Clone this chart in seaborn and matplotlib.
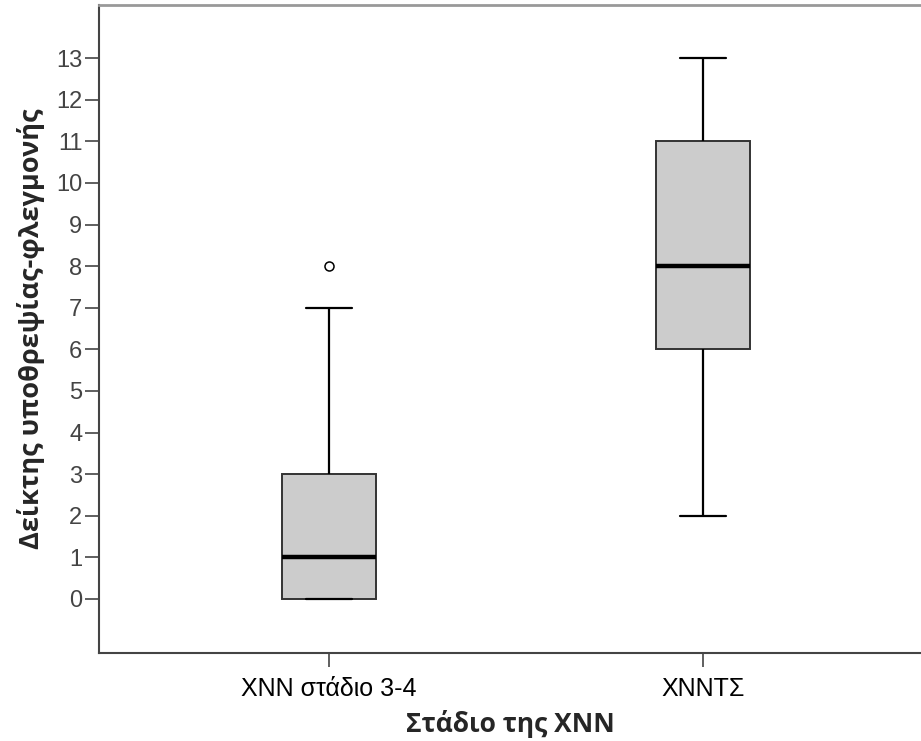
import matplotlib
matplotlib.use("Agg")
import matplotlib.pyplot as plt
import seaborn as sns
import pandas as pd

# group labels and raw scores (quartiles, whiskers, outlier)
groups = ["ΧΝΝ στάδιο 3-4", "ΧΝΝΤΣ"]
stage34 = [0, 0, 0, 0, 0, 0, 0, 1, 1, 1, 1, 1, 2, 2, 3, 3, 3, 4, 7, 8]
xnnts = [2, 4, 5, 6, 6, 6, 7, 8, 8, 8, 9, 10, 11, 11, 11, 12, 13]
yticks = list(range(0, 14))

df = pd.DataFrame({
    "group": [groups[0]] * len(stage34) + [groups[1]] * len(xnnts),
    "score": stage34 + xnnts,
})

sns.set_style("ticks")
plt.rcParams["font.family"] = ["Liberation Sans", "DejaVu Sans"]

fig = plt.figure(figsize=(9.21, 7.41), dpi=100)
ax = fig.add_axes([0.1075, 0.1188, 0.8925, 0.8745])

sns.boxplot(
    data=df, x="group", y="score", order=groups, ax=ax,
    color="#cccccc", saturation=1, width=0.25,
    linecolor="black", linewidth=1.6,
    medianprops=dict(color="black", linewidth=3.2),
    boxprops=dict(edgecolor="#333333", linewidth=1.4),
    flierprops=dict(marker="o", markersize=6.5, markerfacecolor="white",
                    markeredgecolor="black", markeredgewidth=1.1),
)

ax.set_xlim(-0.615, 1.583)
ax.set_ylim(-1.3, 14.28)
ax.set_yticks(yticks)
ax.tick_params(axis="y", labelsize=17, labelcolor="#444444", length=10,
               width=1.2, color="#444444", pad=2)
ax.tick_params(axis="x", labelsize=18, labelcolor="black", length=10,
               width=1.2, color="#444444", pad=7)

for s in ["left", "bottom"]:
    ax.spines[s].set_color("#444444")
    ax.spines[s].set_linewidth(1.5)
ax.spines["top"].set_color("#999999")
ax.spines["top"].set_linewidth(2)
ax.spines["right"].set_visible(False)

ax.set_xlabel("Στάδιο της ΧΝΝ", fontsize=19, fontweight="bold",
              family=["Open Sans", "DejaVu Sans"], labelpad=7)
ax.set_ylabel("Δείκτης υποθρεψίας-φλεγμονής", fontsize=19.5, fontweight="bold",
              family=["Open Sans", "DejaVu Sans"], labelpad=8)

fig.savefig("out.png", dpi=100)
